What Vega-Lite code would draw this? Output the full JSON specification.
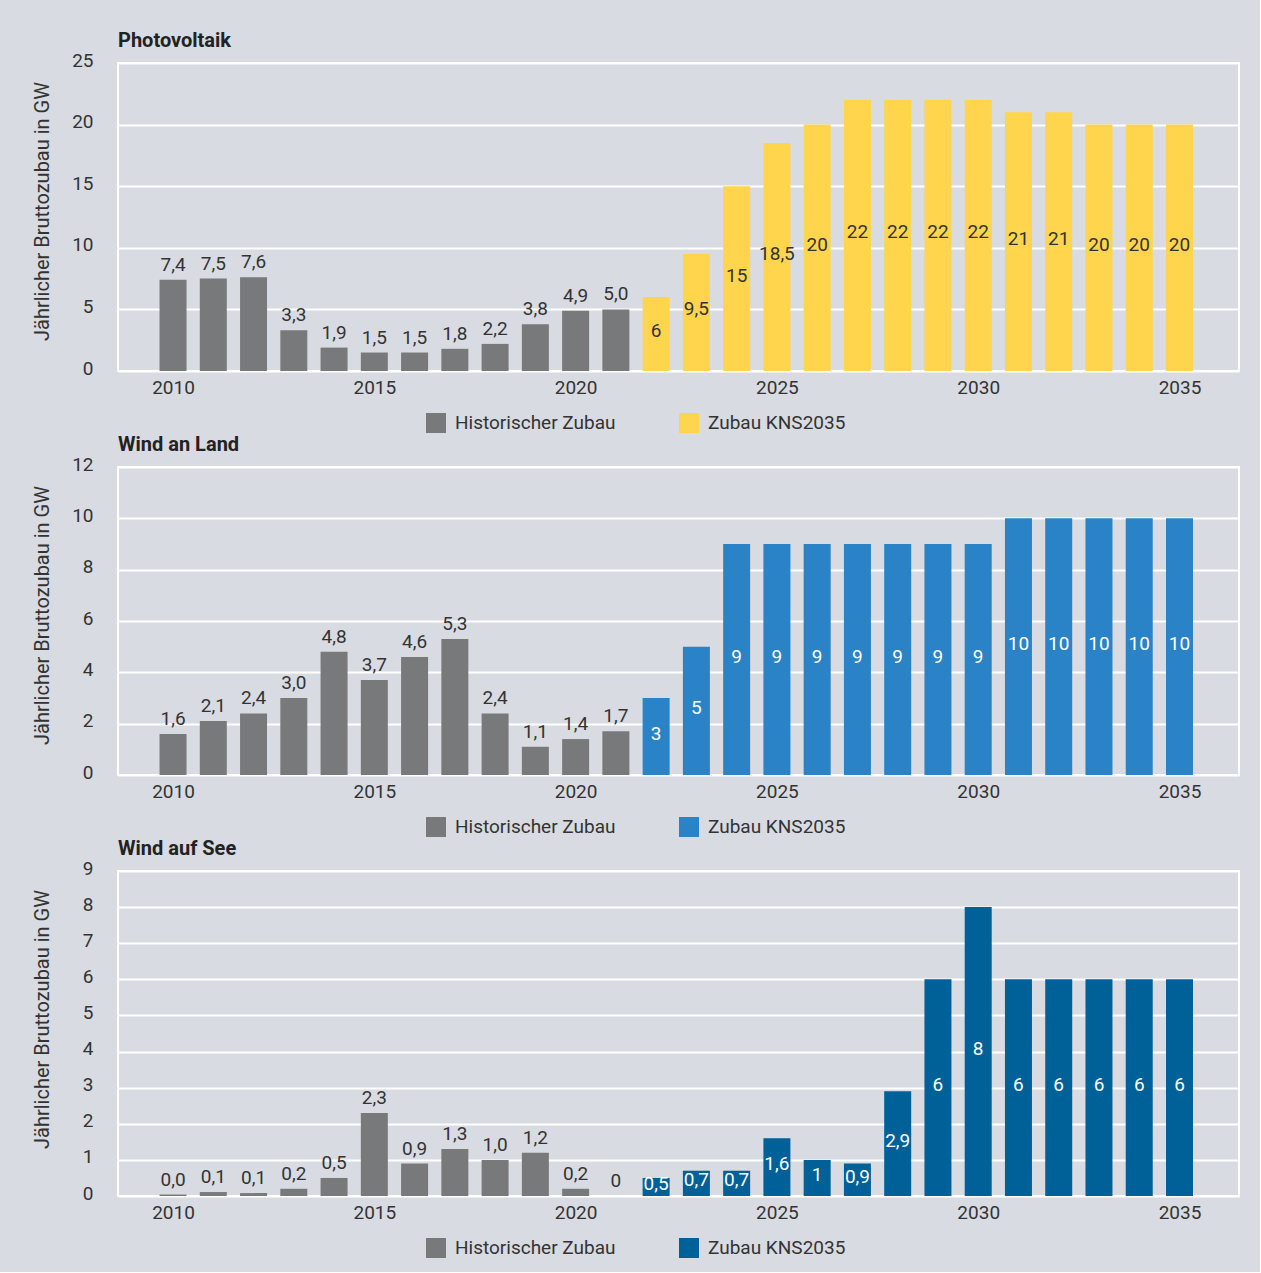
{
  "$schema": "https://vega.github.io/schema/vega-lite/v6.json",
  "background": "#d8dbe2",
  "padding": {"left": 30, "top": 29, "right": 20, "bottom": 10},
  "spacing": 96,
  "bounds": "flush",
  "datasets": {
    "pv": [
      {"year": 2010, "value": 7.4, "label": "7,4", "typ": "Historischer Zubau"},
      {"year": 2011, "value": 7.5, "label": "7,5", "typ": "Historischer Zubau"},
      {"year": 2012, "value": 7.6, "label": "7,6", "typ": "Historischer Zubau"},
      {"year": 2013, "value": 3.3, "label": "3,3", "typ": "Historischer Zubau"},
      {"year": 2014, "value": 1.9, "label": "1,9", "typ": "Historischer Zubau"},
      {"year": 2015, "value": 1.5, "label": "1,5", "typ": "Historischer Zubau"},
      {"year": 2016, "value": 1.5, "label": "1,5", "typ": "Historischer Zubau"},
      {"year": 2017, "value": 1.8, "label": "1,8", "typ": "Historischer Zubau"},
      {"year": 2018, "value": 2.2, "label": "2,2", "typ": "Historischer Zubau"},
      {"year": 2019, "value": 3.8, "label": "3,8", "typ": "Historischer Zubau"},
      {"year": 2020, "value": 4.9, "label": "4,9", "typ": "Historischer Zubau"},
      {"year": 2021, "value": 5.0, "label": "5,0", "typ": "Historischer Zubau"},
      {"year": 2022, "value": 6, "label": "6", "typ": "Zubau KNS2035"},
      {"year": 2023, "value": 9.5, "label": "9,5", "typ": "Zubau KNS2035"},
      {"year": 2024, "value": 15, "label": "15", "typ": "Zubau KNS2035"},
      {"year": 2025, "value": 18.5, "label": "18,5", "typ": "Zubau KNS2035"},
      {"year": 2026, "value": 20, "label": "20", "typ": "Zubau KNS2035"},
      {"year": 2027, "value": 22, "label": "22", "typ": "Zubau KNS2035"},
      {"year": 2028, "value": 22, "label": "22", "typ": "Zubau KNS2035"},
      {"year": 2029, "value": 22, "label": "22", "typ": "Zubau KNS2035"},
      {"year": 2030, "value": 22, "label": "22", "typ": "Zubau KNS2035"},
      {"year": 2031, "value": 21, "label": "21", "typ": "Zubau KNS2035"},
      {"year": 2032, "value": 21, "label": "21", "typ": "Zubau KNS2035"},
      {"year": 2033, "value": 20, "label": "20", "typ": "Zubau KNS2035"},
      {"year": 2034, "value": 20, "label": "20", "typ": "Zubau KNS2035"},
      {"year": 2035, "value": 20, "label": "20", "typ": "Zubau KNS2035"}
    ],
    "land": [
      {"year": 2010, "value": 1.6, "label": "1,6", "typ": "Historischer Zubau"},
      {"year": 2011, "value": 2.1, "label": "2,1", "typ": "Historischer Zubau"},
      {"year": 2012, "value": 2.4, "label": "2,4", "typ": "Historischer Zubau"},
      {"year": 2013, "value": 3.0, "label": "3,0", "typ": "Historischer Zubau"},
      {"year": 2014, "value": 4.8, "label": "4,8", "typ": "Historischer Zubau"},
      {"year": 2015, "value": 3.7, "label": "3,7", "typ": "Historischer Zubau"},
      {"year": 2016, "value": 4.6, "label": "4,6", "typ": "Historischer Zubau"},
      {"year": 2017, "value": 5.3, "label": "5,3", "typ": "Historischer Zubau"},
      {"year": 2018, "value": 2.4, "label": "2,4", "typ": "Historischer Zubau"},
      {"year": 2019, "value": 1.1, "label": "1,1", "typ": "Historischer Zubau"},
      {"year": 2020, "value": 1.4, "label": "1,4", "typ": "Historischer Zubau"},
      {"year": 2021, "value": 1.7, "label": "1,7", "typ": "Historischer Zubau"},
      {"year": 2022, "value": 3, "label": "3", "typ": "Zubau KNS2035"},
      {"year": 2023, "value": 5, "label": "5", "typ": "Zubau KNS2035"},
      {"year": 2024, "value": 9, "label": "9", "typ": "Zubau KNS2035"},
      {"year": 2025, "value": 9, "label": "9", "typ": "Zubau KNS2035"},
      {"year": 2026, "value": 9, "label": "9", "typ": "Zubau KNS2035"},
      {"year": 2027, "value": 9, "label": "9", "typ": "Zubau KNS2035"},
      {"year": 2028, "value": 9, "label": "9", "typ": "Zubau KNS2035"},
      {"year": 2029, "value": 9, "label": "9", "typ": "Zubau KNS2035"},
      {"year": 2030, "value": 9, "label": "9", "typ": "Zubau KNS2035"},
      {"year": 2031, "value": 10, "label": "10", "typ": "Zubau KNS2035"},
      {"year": 2032, "value": 10, "label": "10", "typ": "Zubau KNS2035"},
      {"year": 2033, "value": 10, "label": "10", "typ": "Zubau KNS2035"},
      {"year": 2034, "value": 10, "label": "10", "typ": "Zubau KNS2035"},
      {"year": 2035, "value": 10, "label": "10", "typ": "Zubau KNS2035"}
    ],
    "see": [
      {"year": 2010, "value": 0.04, "label": "0,0", "typ": "Historischer Zubau"},
      {"year": 2011, "value": 0.11, "label": "0,1", "typ": "Historischer Zubau"},
      {"year": 2012, "value": 0.08, "label": "0,1", "typ": "Historischer Zubau"},
      {"year": 2013, "value": 0.2, "label": "0,2", "typ": "Historischer Zubau"},
      {"year": 2014, "value": 0.5, "label": "0,5", "typ": "Historischer Zubau"},
      {"year": 2015, "value": 2.3, "label": "2,3", "typ": "Historischer Zubau"},
      {"year": 2016, "value": 0.9, "label": "0,9", "typ": "Historischer Zubau"},
      {"year": 2017, "value": 1.3, "label": "1,3", "typ": "Historischer Zubau"},
      {"year": 2018, "value": 1.0, "label": "1,0", "typ": "Historischer Zubau"},
      {"year": 2019, "value": 1.2, "label": "1,2", "typ": "Historischer Zubau"},
      {"year": 2020, "value": 0.2, "label": "0,2", "typ": "Historischer Zubau"},
      {"year": 2021, "value": 0, "label": "0", "typ": "Historischer Zubau"},
      {"year": 2022, "value": 0.5, "label": "0,5", "typ": "Zubau KNS2035"},
      {"year": 2023, "value": 0.7, "label": "0,7", "typ": "Zubau KNS2035"},
      {"year": 2024, "value": 0.7, "label": "0,7", "typ": "Zubau KNS2035"},
      {"year": 2025, "value": 1.6, "label": "1,6", "typ": "Zubau KNS2035"},
      {"year": 2026, "value": 1, "label": "1", "typ": "Zubau KNS2035"},
      {"year": 2027, "value": 0.9, "label": "0,9", "typ": "Zubau KNS2035"},
      {"year": 2028, "value": 2.9, "label": "2,9", "typ": "Zubau KNS2035"},
      {"year": 2029, "value": 6, "label": "6", "typ": "Zubau KNS2035"},
      {"year": 2030, "value": 8, "label": "8", "typ": "Zubau KNS2035"},
      {"year": 2031, "value": 6, "label": "6", "typ": "Zubau KNS2035"},
      {"year": 2032, "value": 6, "label": "6", "typ": "Zubau KNS2035"},
      {"year": 2033, "value": 6, "label": "6", "typ": "Zubau KNS2035"},
      {"year": 2034, "value": 6, "label": "6", "typ": "Zubau KNS2035"},
      {"year": 2035, "value": 6, "label": "6", "typ": "Zubau KNS2035"}
    ]
  },
  "config": {
    "font": "Roboto",
    "view": {"stroke": "white", "strokeWidth": 2},
    "axis": {"domain": false, "ticks": false, "labelFontSize": 19, "labelColor": "#333333", "titleFontSize": 20, "titleFontWeight": "normal", "titleColor": "#333333", "gridColor": "white", "gridWidth": 2, "gridOpacity": 1},
    "axisX": {"grid": false, "labelPadding": 7},
    "axisY": {"labelPadding": 25, "labelOffset": -3, "titleX": -66, "titleY": 148},
    "title": {"anchor": "start", "frame": "group", "fontSize": 20, "fontWeight": "bold", "color": "#222222", "offset": 0.01},
    "legend": {"orient": "none", "direction": "horizontal", "symbolType": "square", "symbolSize": 400, "symbolStrokeColor": "white", "symbolStrokeWidth": 1.5, "symbolOpacity": 1, "labelFontSize": 19, "labelColor": "#333333", "labelOffset": 8, "labelLimit": 400, "columnPadding": 60, "padding": 0},
    "text": {"fontSize": 19, "color": "#333333"}
  },
  "resolve": {"scale": {"x": "independent", "y": "independent", "color": "independent"}, "legend": {"color": "independent"}},
  "vconcat": [
    {
      "width": 1121, "height": 308,
      "title": "Photovoltaik",
      "data": {"name": "pv"},
      "resolve": {"scale": {"y": "independent"}},
      "layer": [
        {
          "mark": {"type": "bar", "size": 27},
          "encoding": {
            "x": {"field": "year", "type": "quantitative", "scale": {"domain": [2008.757, 2036.354], "nice": false, "zero": false}, "axis": {"values": [2010, 2015, 2020, 2025, 2030, 2035], "format": "d", "title": null}},
            "y": {"field": "value", "type": "quantitative", "scale": {"domain": [0, 25], "nice": false}, "axis": {"values": [0, 5, 10, 15, 20, 25], "title": "Jährlicher Bruttozubau in GW"}},
            "color": {"field": "typ", "type": "nominal", "scale": {"domain": ["Historischer Zubau", "Zubau KNS2035"], "range": ["#78797b", "#fed54c"]},
              "legend": {"title": null, "legendX": 307, "legendY": 349, "encode": {"symbols": {"update": {"fill": {"signal": "datum.value === 'Historischer Zubau' ? '#5f6670' : '#fed54c'"}}}}}}
          }
        },
        {
          "transform": [{"filter": "datum.typ === 'Historischer Zubau'"}],
          "mark": {"type": "text", "baseline": "bottom", "dy": -5},
          "encoding": {
            "x": {"field": "year", "type": "quantitative"},
            "y": {"field": "value", "type": "quantitative", "scale": {"domain": [0, 25], "nice": false}, "axis": null},
            "text": {"field": "label"}
          }
        },
        {
          "transform": [{"filter": "datum.typ === 'Zubau KNS2035'"}],
          "mark": {"type": "text", "baseline": "middle", "dy": -3},
          "encoding": {
            "x": {"field": "year", "type": "quantitative"},
            "y": {"field": "value", "type": "quantitative", "scale": {"domain": [0, 50], "nice": false}, "axis": null},
            "text": {"field": "label"}
          }
        }
      ]
    },
    {
      "width": 1121, "height": 308,
      "title": "Wind an Land",
      "data": {"name": "land"},
      "resolve": {"scale": {"y": "independent"}},
      "layer": [
        {
          "mark": {"type": "bar", "size": 27},
          "encoding": {
            "x": {"field": "year", "type": "quantitative", "scale": {"domain": [2008.757, 2036.354], "nice": false, "zero": false}, "axis": {"values": [2010, 2015, 2020, 2025, 2030, 2035], "format": "d", "title": null}},
            "y": {"field": "value", "type": "quantitative", "scale": {"domain": [0, 12], "nice": false}, "axis": {"values": [0, 2, 4, 6, 8, 10, 12], "title": "Jährlicher Bruttozubau in GW"}},
            "color": {"field": "typ", "type": "nominal", "scale": {"domain": ["Historischer Zubau", "Zubau KNS2035"], "range": ["#78797b", "#2a83c6"]},
              "legend": {"title": null, "legendX": 307, "legendY": 349, "encode": {"symbols": {"update": {"fill": {"signal": "datum.value === 'Historischer Zubau' ? '#5f6670' : '#2a83c6'"}}}}}}
          }
        },
        {
          "transform": [{"filter": "datum.typ === 'Historischer Zubau'"}],
          "mark": {"type": "text", "baseline": "bottom", "dy": -5},
          "encoding": {
            "x": {"field": "year", "type": "quantitative"},
            "y": {"field": "value", "type": "quantitative", "scale": {"domain": [0, 12], "nice": false}, "axis": null},
            "text": {"field": "label"}
          }
        },
        {
          "transform": [{"filter": "datum.typ === 'Zubau KNS2035'"}],
          "mark": {"type": "text", "baseline": "middle", "dy": -3, "color": "white"},
          "encoding": {
            "x": {"field": "year", "type": "quantitative"},
            "y": {"field": "value", "type": "quantitative", "scale": {"domain": [0, 24], "nice": false}, "axis": null},
            "text": {"field": "label"}
          }
        }
      ]
    },
    {
      "width": 1121, "height": 325,
      "title": "Wind auf See",
      "data": {"name": "see"},
      "resolve": {"scale": {"y": "independent"}},
      "layer": [
        {
          "mark": {"type": "bar", "size": 27},
          "encoding": {
            "x": {"field": "year", "type": "quantitative", "scale": {"domain": [2008.757, 2036.354], "nice": false, "zero": false}, "axis": {"values": [2010, 2015, 2020, 2025, 2030, 2035], "format": "d", "title": null}},
            "y": {"field": "value", "type": "quantitative", "scale": {"domain": [0, 9], "nice": false}, "axis": {"values": [0, 1, 2, 3, 4, 5, 6, 7, 8, 9], "title": "Jährlicher Bruttozubau in GW"}},
            "color": {"field": "typ", "type": "nominal", "scale": {"domain": ["Historischer Zubau", "Zubau KNS2035"], "range": ["#78797b", "#006199"]},
              "legend": {"title": null, "legendX": 307, "legendY": 366, "encode": {"symbols": {"update": {"fill": {"signal": "datum.value === 'Historischer Zubau' ? '#5f6670' : '#006199'"}}}}}}
          }
        },
        {
          "transform": [{"filter": "datum.typ === 'Historischer Zubau'"}],
          "mark": {"type": "text", "baseline": "bottom", "dy": -5},
          "encoding": {
            "x": {"field": "year", "type": "quantitative"},
            "y": {"field": "value", "type": "quantitative", "scale": {"domain": [0, 9], "nice": false}, "axis": null},
            "text": {"field": "label"}
          }
        },
        {
          "transform": [{"filter": "datum.typ === 'Zubau KNS2035'"}],
          "mark": {"type": "text", "baseline": "middle", "dy": -3, "color": "white"},
          "encoding": {
            "x": {"field": "year", "type": "quantitative"},
            "y": {"field": "value", "type": "quantitative", "scale": {"domain": [0, 18], "nice": false}, "axis": null},
            "text": {"field": "label"}
          }
        }
      ]
    }
  ]
}
